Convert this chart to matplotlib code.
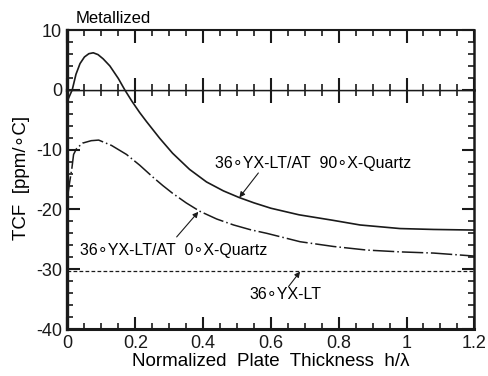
#!/usr/bin/env python3
"""TCF vs normalized plate thickness (metallized)"""

import matplotlib.pyplot as plt
from matplotlib.ticker import MultipleLocator

plt.rcParams['font.family'] = ['Liberation Sans', 'DejaVu Sans']
plt.rcParams['axes.unicode_minus'] = False

# 36°YX-LT/AT 90°X-Quartz (実線)
h_90 = [0.0, 0.014, 0.025, 0.037, 0.05, 0.063, 0.076, 0.09, 0.105, 0.125, 0.15,
        0.169, 0.19, 0.213, 0.233, 0.272, 0.31, 0.36, 0.41, 0.46, 0.506, 0.55,
        0.6, 0.683, 0.781, 0.863, 0.981, 1.08, 1.2]
tcf_90 = [-1.8, 0.0, 2.6, 4.4, 5.5, 6.05, 6.2, 5.9, 5.2, 4.0, 1.9,
          0.0, -1.9, -3.8, -5.3, -8.1, -10.6, -13.3, -15.4, -16.9, -18.0, -18.9,
          -19.8, -20.9, -21.8, -22.6, -23.2, -23.35, -23.45]

# 36°YX-LT/AT 0°X-Quartz (一点鎖線)
h_0 = [0.0, 0.006, 0.013, 0.018, 0.027, 0.045, 0.07, 0.092, 0.13, 0.174, 0.213,
       0.252, 0.281, 0.31, 0.35, 0.39, 0.44, 0.49, 0.54, 0.588, 0.686, 0.785,
       0.883, 0.981, 1.08, 1.2]
tcf_0 = [-18.0, -15.6, -13.1, -10.8, -9.8, -8.9, -8.5, -8.4, -9.3, -10.8, -12.6,
         -14.6, -16.0, -17.3, -18.9, -20.3, -21.6, -22.6, -23.4, -24.0, -25.4, -26.2,
         -26.8, -27.1, -27.3, -27.8]

# 36°YX-LT (破線)
h_lt = [0.0, 1.2]
tcf_lt = [-30.3, -30.3]

fig = plt.figure(figsize=(4.89, 3.76), dpi=100)
left, bottom, width, height = 0.138, 0.125, 0.832, 0.795
ax = fig.add_axes([left, bottom, width, height * 0.8])
ax_top = fig.add_axes([left, bottom + height * 0.8, width, height * 0.2])

for a in (ax, ax_top):
    a.plot(h_90, tcf_90, color='#1a1a1a', linewidth=1.2)
    a.plot(h_0, tcf_0, color='#1a1a1a', linewidth=1.1, dashes=(14, 2, 1, 2))
    a.plot(h_lt, tcf_lt, color='#1a1a1a', linewidth=0.9, dashes=(3, 1.8))
    a.set_xlim(0, 1.2)
    a.xaxis.set_major_locator(MultipleLocator(0.2))
    a.xaxis.set_minor_locator(MultipleLocator(0.05))
    a.yaxis.set_major_locator(MultipleLocator(10))
    a.yaxis.set_minor_locator(MultipleLocator(2))
    a.tick_params(which='both', direction='in', top=True, right=True,
                  labelsize=13, colors='#1a1a1a', pad=4)
    a.tick_params(which='major', length=9, width=1.5)
    a.tick_params(which='minor', length=4.5, width=1.2)
    for s in a.spines.values():
        s.set_color('#1a1a1a')
    a.spines['left'].set_linewidth(2.4)
    a.spines['right'].set_linewidth(1.8)

ax.set_ylim(-40, 0)
ax_top.set_ylim(0, 10)
ax.set_yticks([-40, -30, -20, -10])
ax_top.set_yticks([0, 10])
ax.set_xticks([0, 0.2, 0.4, 0.6, 0.8, 1.0, 1.2])
ax.set_xticklabels(['0', '0.2', '0.4', '0.6', '0.8', '1', '1.2'])
ax_top.tick_params(labelbottom=False)

ax.spines['bottom'].set_linewidth(2.2)
ax.spines['top'].set_linewidth(1.0)
ax_top.spines['bottom'].set_linewidth(1.0)
ax_top.spines['top'].set_linewidth(1.5)
# 0 ライン上の目盛り
ax.tick_params(which='major', axis='x', top=True)
ax_top.tick_params(which='both', axis='x', bottom=True)

ax.set_xlabel('Normalized  Plate  Thickness  h/\u03bb', fontsize=13.5, labelpad=1)
ax.set_ylabel('TCF  [ppm/\u2218C]', fontsize=13.5)
ax.yaxis.set_label_coords(-0.092, 0.63)

ax_top.text(0.025, 11.9, 'Metallized', fontsize=12, va='center', ha='left', clip_on=False)

arrow = dict(arrowstyle='-|>', color='#1a1a1a', lw=0.8, mutation_scale=8, shrinkA=0, shrinkB=0)
ax.text(0.436, -12.3, '36\u2218YX-LT/AT  90\u2218X-Quartz', fontsize=11.5, va='center', ha='left')
ax.annotate('', xy=(0.507, -18.0), xytext=(0.563, -13.9), arrowprops=arrow)

ax.text(0.037, -26.8, '36\u2218YX-LT/AT  0\u2218X-Quartz', fontsize=11.5, va='center', ha='left')
ax.annotate('', xy=(0.386, -20.4), xytext=(0.322, -24.6), arrowprops=arrow)

ax.text(0.537, -34.3, '36\u2218YX-LT', fontsize=11.5, va='center', ha='left')
ax.annotate('', xy=(0.686, -30.4), xytext=(0.652, -32.9), arrowprops=arrow)

plt.savefig('out.png', dpi=100, facecolor='white')
